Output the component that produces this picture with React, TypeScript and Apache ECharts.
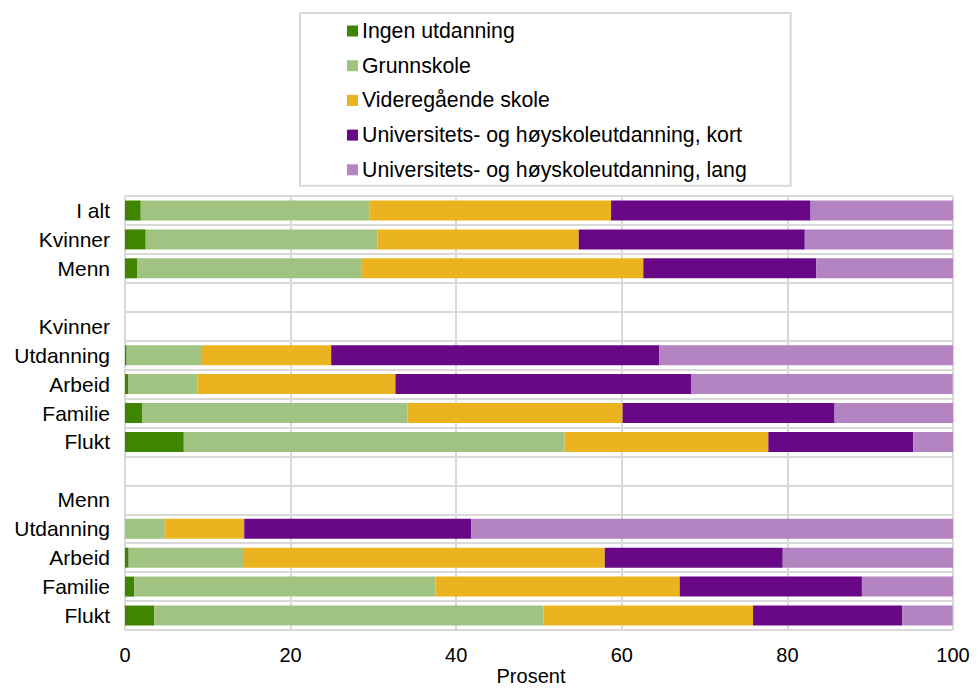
import React, { useEffect, useRef } from "react";
import * as echarts from "echarts";

const categories = [
  "I alt", "Kvinner", "Menn", "",
  "Kvinner", "Utdanning", "Arbeid", "Familie", "Flukt", "",
  "Menn", "Utdanning", "Arbeid", "Familie", "Flukt",
];

const seriesNames = [
  "Ingen utdanning",
  "Grunnskole",
  "Videregående skole",
  "Universitets- og høyskoleutdanning, kort",
  "Universitets- og høyskoleutdanning, lang",
];

const ingen = [1.9, 2.5, 1.45, null, null, 0.2, 0.36, 2.05, 7.1, null, null, 0, 0.44, 1.1, 3.55];
const grunnskole = [27.6, 28.0, 27.15, null, null, 9.1, 8.4, 32.05, 46.0, null, null, 4.8, 13.8, 36.4, 47.0];
const videregaende = [29.2, 24.3, 34.0, null, null, 15.6, 23.9, 26.0, 24.6, null, null, 9.6, 43.7, 29.5, 25.3];
const uniKort = [24.1, 27.3, 20.9, null, null, 39.6, 35.7, 25.6, 17.5, null, null, 27.4, 21.5, 22.0, 18.0];
const uniLang = [17.2, 17.9, 16.5, null, null, 35.5, 31.6, 14.3, 4.8, null, null, 58.2, 20.6, 11.0, 6.1];

const xTicks = [0, 20, 40, 60, 80, 100];

const colors = ["#3f8500", "#a0c382", "#ebb31f", "#680886", "#b383c2"];
const FONT = "Liberation Sans, Arial, sans-serif";

export default function App() {
  const ref = useRef<HTMLDivElement>(null);
  useEffect(() => {
    document.body.style.margin = "0";
    if (!ref.current) return;
    const chart = echarts.init(ref.current, undefined, { renderer: "svg" });
    const allData = [ingen, grunnskole, videregaende, uniKort, uniLang];
    chart.setOption({
      animation: false,
      textStyle: { fontFamily: FONT },
      legend: {
        orient: "vertical",
        left: 300,
        top: 13,
        padding: [6, 44, 4, 47],
        itemGap: 10.7,
        itemWidth: 11,
        itemHeight: 11,
        icon: "rect",
        selectedMode: false,
        borderColor: "#d9d9d9",
        borderWidth: 2,
        data: seriesNames,
        textStyle: { fontFamily: FONT, fontSize: 21.3, color: "#000", lineHeight: 24, padding: [0, 0, 0, -1] },
      },
      grid: { left: 125, right: 24, top: 196, bottom: 58, containLabel: false, outerBoundsMode: "none" },
      xAxis: {
        type: "value",
        min: xTicks[0],
        max: xTicks[xTicks.length - 1],
        interval: 20,
        name: "Prosent",
        nameLocation: "middle",
        nameGap: 36,
        nameMoveOverlap: false,
        nameTextStyle: { fontFamily: FONT, fontSize: 20, color: "#000", padding: [0, 16, 0, 0] },
        axisLine: { show: false },
        axisTick: { show: false },
        axisLabel: { fontFamily: FONT, fontSize: 20, color: "#000", margin: 15 },
        splitLine: { show: true, lineStyle: { color: "#d9d9d9", width: 2 } },
      },
      yAxis: {
        type: "category",
        inverse: true,
        data: categories,
        axisLine: { show: false },
        axisTick: { show: false },
        axisLabel: { fontFamily: FONT, fontSize: 21, color: "#000", margin: 15, interval: 0 },
        splitLine: { show: true, interval: 0, lineStyle: { color: "#d9d9d9", width: 2 } },
      },
      series: seriesNames.map((name, i) => ({
        name,
        type: "bar",
        stack: "total",
        barWidth: 20,
        itemStyle: { color: colors[i] },
        data: allData[i],
      })),
    });
    return () => chart.dispose();
  }, []);
  return <div ref={ref} style={{ width: 977, height: 688 }} />;
}
